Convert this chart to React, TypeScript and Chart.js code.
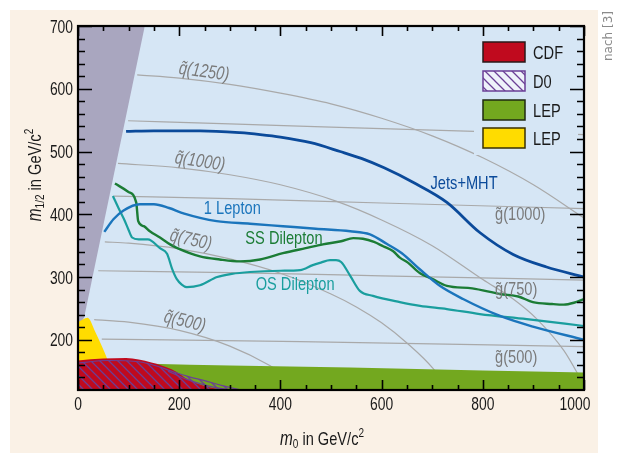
import React, { useEffect, useRef } from "react";
import { Chart, registerables } from "chart.js";
Chart.register(...registerables);

const FONT = "'Liberation Sans', Arial, sans-serif";
const SX = 0.77; // horizontal condensing of the typeface

// ---- tick labels ----
const xTickValues = [0, 200, 400, 600, 800, 1000];
const yTickValues = [200, 300, 400, 500, 600, 700];

// ---- exclusion curves (m0, m1/2) ----
const jetsX = [95, 150, 241, 320, 360, 400, 460, 518, 560, 605, 662, 729, 794, 860, 926, 1000];
const jetsY = [532, 533, 533, 530, 527, 523, 514, 500, 489, 474, 451, 419, 371, 336, 316, 300];

const lepX = [52, 70, 90, 122, 150, 180, 210, 274, 340, 405, 470, 538, 577, 610, 640, 676, 715, 761, 834, 899, 1000];
const lepY = [372, 392, 406, 416, 416, 410, 401, 389, 385, 381, 377, 373, 368, 353, 338, 312, 286, 265, 238, 221, 200];

const ssX = [73, 99, 115, 119, 130, 142, 162, 182, 194, 241, 280, 320, 360, 405, 450, 484, 520, 544, 563, 585, 603, 623, 636, 652, 676, 700, 729, 779, 834, 870, 899, 937, 960, 980, 1000];
const ssY = [449, 436, 419, 389, 381, 373, 363, 352, 347, 333, 328, 325, 328, 338, 346, 352, 357, 362, 361, 356, 349, 341, 331, 323, 306, 297, 286, 282, 273, 269, 260, 257, 256, 259, 265];

const osX = [69, 80, 91, 100, 107, 120, 138, 162, 176, 186, 195, 205, 215, 241, 275, 304, 340, 400, 439, 464, 480, 498, 510, 520, 538, 557, 583, 636, 676, 729, 794, 887, 1000];
const osY = [429, 410, 392, 375, 363, 360, 360, 346, 337, 313, 297, 288, 284, 287, 300, 305, 308, 310, 311, 319, 323, 327, 327, 324, 302, 278, 270, 260, 254, 249, 241, 233, 222];

// ---- iso-mass lines ----
const sq1250X = [117, 200, 300, 400, 500, 600, 700, 800, 900, 1000];
const sq1250Y = [622, 617, 607, 593, 576, 553, 525, 490, 447, 394];
const sq1000X = [79, 200, 300, 400, 510, 600, 700, 800, 860, 907, 960, 1000];
const sq1000Y = [481, 474, 463, 447, 421, 391, 350, 296, 265, 233, 183, 128];
const sq750X = [53, 100, 200, 300, 400, 500, 551, 600, 650, 702, 740];
const sq750Y = [356, 354, 345, 329, 306, 273, 252, 227, 195, 154, 110];
const sq500X = [32, 100, 200, 300, 379, 420, 450];
const sq500Y = [232, 228, 215, 190, 159, 137, 116];

const gl1250X = [99, 300, 500, 700, 1000];
const gl1250Y = [549, 544, 539, 534, 527];
const gl1000X = [71, 300, 600, 1000];
const gl1000Y = [429, 425, 418, 409];
const gl750X = [40, 300, 600, 1000];
const gl750Y = [310, 307, 302, 295];
const gl500X = [47, 440, 1000];
const gl500Y = [201, 197, 189];

// ---- excluded regions ----
const wedgeX = [0, 12, 132];
const wedgeY = [222, 235, 700];
const yellowX = [0, 19, 34, 47, 59, 65];
const yellowY = [228, 235, 213, 190, 167, 155];
const greenX = [0, 142, 300, 538, 800, 1000];
const greenY = [165, 162, 159, 156, 151, 148];
const cdfX = [0, 50, 95, 145, 185, 221, 255, 294];
const cdfY = [167, 170, 171, 164, 153, 135, 125, 119];
const d0X = [0, 60, 120, 160, 188, 220, 250, 285, 322];
const d0Y = [163, 167, 165, 157, 149, 141, 135, 127, 120];
const d0InnerX = [178, 215, 255, 300];
const d0InnerY = [150, 137, 127, 120];

// ---- labels ----
const curveLabels = ["Jets+MHT", "1 Lepton", "SS Dilepton", "OS Dilepton"];
const curveLabelX = [763, 305, 407, 429];
const curveLabelY = [450, 410, 363, 289];
const massLabels = ["q\u0303(1250)", "q\u0303(1000)", "q\u0303(750)", "q\u0303(500)", "g\u0303(1000)", "g\u0303(750)", "g\u0303(500)"];
const massLabelX = [249, 241, 223, 211, 874, 866, 866];
const massLabelY = [630, 487, 362, 232, 402, 283, 175];
const massLabelAngle = [8, 9, 13, 14, 0, 0, 0];
const legendLabels = ["CDF", "D0", "LEP", "LEP"];

const C = {
  page: "#ffffff",
  panel: "#faf1e6",
  plot: "#d6e6f5",
  wedge: "#a9a6bf",
  red: "#c00a1e",
  green: "#73a81f",
  yellow: "#ffdc00",
  purple: "#6b3f96",
  iso: "#a9a9a9",
  isoText: "#7a7a7a",
  jets: "#0b4a9a",
  lep: "#1b75bc",
  ss: "#1b7c35",
  os: "#1a9e9e",
  ink: "#1a1a1a",
};

const xy = (xs: number[], ys: number[]) => xs.map((x, i) => ({ x, y: ys[i] }));

function makeHatch(color: string, bg?: string): CanvasPattern {
  const s = 9;
  const c = document.createElement("canvas");
  c.width = s;
  c.height = s;
  const g = c.getContext("2d")!;
  if (bg) {
    g.fillStyle = bg;
    g.fillRect(0, 0, s, s);
  }
  g.strokeStyle = color;
  g.lineWidth = 1.3;
  g.beginPath();
  g.moveTo(-1, -1);
  g.lineTo(s + 1, s + 1);
  g.moveTo(-1, s - 1);
  g.lineTo(1, s + 1);
  g.moveTo(s - 1, -1);
  g.lineTo(s + 1, 1);
  g.stroke();
  return g.createPattern(c, "repeat")!;
}

function ctext(
  ctx: CanvasRenderingContext2D,
  t: string,
  x: number,
  y: number,
  font: string,
  color: string,
  align: CanvasTextAlign = "center",
  baseline: CanvasTextBaseline = "middle",
  angleDeg = 0
) {
  ctx.save();
  ctx.font = font;
  ctx.fillStyle = color;
  ctx.textAlign = align;
  ctx.textBaseline = baseline;
  ctx.translate(x, y);
  if (angleDeg) ctx.rotate((angleDeg * Math.PI) / 180);
  ctx.scale(SX, 1);
  ctx.fillText(t, 0, 0);
  ctx.restore();
}

function drawRich(
  ctx: CanvasRenderingContext2D,
  parts: { t: string; font: string; dy: number }[],
  cx: number,
  baseline: number
) {
  let w = 0;
  for (const p of parts) {
    ctx.font = p.font;
    w += ctx.measureText(p.t).width * SX;
  }
  let x = cx - w / 2;
  ctx.textAlign = "left";
  ctx.textBaseline = "alphabetic";
  for (const p of parts) {
    ctx.font = p.font;
    ctx.save();
    ctx.translate(x, baseline + p.dy);
    ctx.scale(SX, 1);
    ctx.fillText(p.t, 0, 0);
    ctx.restore();
    x += ctx.measureText(p.t).width * SX;
  }
}

export default function App() {
  const ref = useRef<HTMLCanvasElement | null>(null);

  useEffect(() => {
    document.body.style.margin = "0";
    const canvas = ref.current!;
    const hatch = makeHatch(C.purple);
    const legendHatch = makeHatch(C.purple, "#eef2fa");

    const line = (label: string, xs: number[], ys: number[], color: string, width: number, order: number) => ({
      label,
      data: xy(xs, ys),
      borderColor: color,
      backgroundColor: color,
      borderWidth: width,
      pointRadius: 0,
      fill: false,
      cubicInterpolationMode: "monotone",
      order,
    });
    const region = (label: string, xs: number[], ys: number[], bg: any, fill: string, order: number, border = "rgba(0,0,0,0)", bw = 1) => ({
      label,
      data: xy(xs, ys),
      borderColor: border,
      backgroundColor: bg,
      borderWidth: bw,
      pointRadius: 0,
      fill,
      cubicInterpolationMode: "monotone",
      order,
    });

    const datasets: any[] = [
      line("Jets+MHT", jetsX, jetsY, C.jets, 2.8, 1),
      line("1 Lepton", lepX, lepY, C.lep, 2.4, 1),
      line("SS Dilepton", ssX, ssY, C.ss, 2.4, 1),
      line("OS Dilepton", osX, osY, C.os, 2.2, 1),
      region("D0", d0X, d0Y, hatch, "start", 2, C.purple, 1.2),
      line("D0 inner", d0InnerX, d0InnerY, C.purple, 1.2, 2),
      region("CDF", cdfX, cdfY, C.red, "start", 3),
      region("LEP yellow", yellowX, yellowY, C.yellow, "start", 4),
      region("LEP green", greenX, greenY, C.green, "start", 5),
      { ...region("theory", wedgeX, wedgeY, C.wedge, "end", 6), cubicInterpolationMode: "default", tension: 0 },
      line("sq1250", sq1250X, sq1250Y, C.iso, 1.2, 7),
      line("sq1000", sq1000X, sq1000Y, C.iso, 1.2, 7),
      line("sq750", sq750X, sq750Y, C.iso, 1.2, 7),
      line("sq500", sq500X, sq500Y, C.iso, 1.2, 7),
      line("gl1250", gl1250X, gl1250Y, C.iso, 1.2, 7),
      line("gl1000", gl1000X, gl1000Y, C.iso, 1.2, 7),
      line("gl750", gl750X, gl750Y, C.iso, 1.2, 7),
      line("gl500", gl500X, gl500Y, C.iso, 1.2, 7),
    ];

    const decor = {
      id: "decor",
      beforeDraw(chart: any) {
        const { ctx, chartArea: a } = chart;
        ctx.save();
        ctx.fillStyle = C.page;
        ctx.fillRect(0, 0, chart.width, chart.height);
        ctx.fillStyle = C.panel;
        ctx.fillRect(10, 10, 588, 443);
        ctx.fillStyle = C.plot;
        ctx.fillRect(a.left, a.top, a.right - a.left, a.bottom - a.top);
        ctx.restore();
      },
      afterDatasetsDraw(chart: any) {
        const { ctx, chartArea: a, scales } = chart;
        const xs = scales.x;
        const ys = scales.y;
        ctx.save();
        // legend
        ctx.fillStyle = C.plot;
        ctx.fillRect(474, 34, 104, 121);
        const fills = [C.red, legendHatch, C.green, C.yellow];
        const borders = ["#2a1a1a", C.purple, "#1f2a10", "#3a3000"];
        const tops = [42, 71, 100, 128];
        for (let i = 0; i < legendLabels.length; i++) {
          ctx.fillStyle = fills[i];
          ctx.fillRect(483, tops[i], 42, 20);
          ctx.strokeStyle = borders[i];
          ctx.lineWidth = 1.5;
          ctx.strokeRect(483, tops[i], 42, 20);
          ctext(ctx, legendLabels[i], 533, tops[i] + 17, `19px ${FONT}`, C.ink, "left", "alphabetic");
        }
        // curve labels
        const ccol = [C.jets, C.lep, C.ss, C.os];
        for (let i = 0; i < curveLabels.length; i++) {
          ctext(ctx, curveLabels[i], xs.getPixelForValue(curveLabelX[i]), ys.getPixelForValue(curveLabelY[i]) + 1, `19px ${FONT}`, ccol[i]);
        }
        for (let i = 0; i < massLabels.length; i++) {
          ctext(
            ctx,
            massLabels[i],
            xs.getPixelForValue(massLabelX[i]),
            ys.getPixelForValue(massLabelY[i]) + 2,
            `${massLabelAngle[i] ? "italic " : ""}19px ${FONT}`,
            C.isoText,
            "center",
            "middle",
            massLabelAngle[i]
          );
        }
        // inside ticks
        ctx.strokeStyle = "#000";
        ctx.lineWidth = 1.6;
        ctx.beginPath();
        for (let v = 0; v <= 1000; v += 50) {
          const px = Math.round(xs.getPixelForValue(v)) + 0.5;
          const len = v % 200 === 0 ? 10 : 5;
          ctx.moveTo(px, a.bottom);
          ctx.lineTo(px, a.bottom - len);
          ctx.moveTo(px, a.top);
          ctx.lineTo(px, a.top + len);
        }
        for (let v = 140; v <= 700; v += 20) {
          const py = Math.round(ys.getPixelForValue(v)) + 0.5;
          const len = v % 100 === 0 ? 14 : 7;
          ctx.moveTo(a.left, py);
          ctx.lineTo(a.left + len, py);
          ctx.moveTo(a.right, py);
          ctx.lineTo(a.right - len, py);
        }
        ctx.stroke();
        ctx.lineWidth = 2.2;
        ctx.strokeRect(a.left, a.top, a.right - a.left, a.bottom - a.top);
        ctx.restore();
      },
      afterDraw(chart: any) {
        const { ctx, chartArea: a, scales } = chart;
        const xs = scales.x;
        const ys = scales.y;
        ctx.save();
        // tick labels
        for (const v of xTickValues) {
          const px = xs.getPixelForValue(v) - (v === 1000 ? 9 : 0);
          ctext(ctx, String(v), px, a.bottom + 20, `18px ${FONT}`, C.ink, "center", "alphabetic");
        }
        for (const v of yTickValues) {
          ctext(ctx, String(v), a.left - 5, ys.getPixelForValue(v) + 6.5, `18px ${FONT}`, C.ink, "right", "alphabetic");
        }
        // axis titles
        ctx.fillStyle = C.ink;
        const big = `19px ${FONT}`;
        const bigI = `italic 20px ${FONT}`;
        const small = `13px ${FONT}`;
        drawRich(
          ctx,
          [
            { t: "m", font: bigI, dy: 0 },
            { t: "0", font: small, dy: 3 },
            { t: " in GeV/c", font: big, dy: 0 },
            { t: "2", font: small, dy: -8 },
          ],
          322,
          445
        );
        ctx.save();
        ctx.translate(41, 175);
        ctx.rotate(-Math.PI / 2);
        drawRich(
          ctx,
          [
            { t: "m", font: bigI, dy: 0 },
            { t: "1/2", font: small, dy: 3 },
            { t: " in GeV/c", font: big, dy: 0 },
            { t: "2", font: small, dy: -8 },
          ],
          0,
          0
        );
        ctx.restore();
        // source note
        ctx.translate(612, 36);
        ctx.rotate(-Math.PI / 2);
        ctx.font = `12px 'DejaVu Sans', sans-serif`;
        ctx.textAlign = "center";
        ctx.textBaseline = "alphabetic";
        ctx.fillStyle = "#8a8a8a";
        ctx.fillText("nach [3]", 0, 0);
        ctx.restore();
      },
    };

    const chart = new Chart(canvas, {
      type: "line",
      data: { datasets },
      options: {
        animation: false,
        responsive: false,
        maintainAspectRatio: false,
        events: [],
        layout: { padding: { top: 26, right: 40, left: 0, bottom: 0 } },
        plugins: { legend: { display: false }, tooltip: { enabled: false } },
        scales: {
          x: {
            type: "linear",
            min: 0,
            max: 1000,
            grid: { display: false, drawTicks: false },
            border: { display: false },
            afterBuildTicks: (s: any) => {
              s.ticks = xTickValues.map((v) => ({ value: v }));
            },
            afterFit: (s: any) => {
              s.height = 64;
            },
            ticks: { display: false },
          },
          y: {
            type: "linear",
            min: 120,
            max: 700,
            grid: { display: false, drawTicks: false },
            border: { display: false },
            afterBuildTicks: (s: any) => {
              s.ticks = yTickValues.map((v) => ({ value: v }));
            },
            afterFit: (s: any) => {
              s.width = 78;
            },
            ticks: { display: false },
          },
        },
      } as any,
      plugins: [decor],
    });
    return () => chart.destroy();
  }, []);

  return (
    <div style={{ width: 624, height: 454 }}>
      <canvas ref={ref} width={624} height={454} style={{ display: "block" }} />
    </div>
  );
}
